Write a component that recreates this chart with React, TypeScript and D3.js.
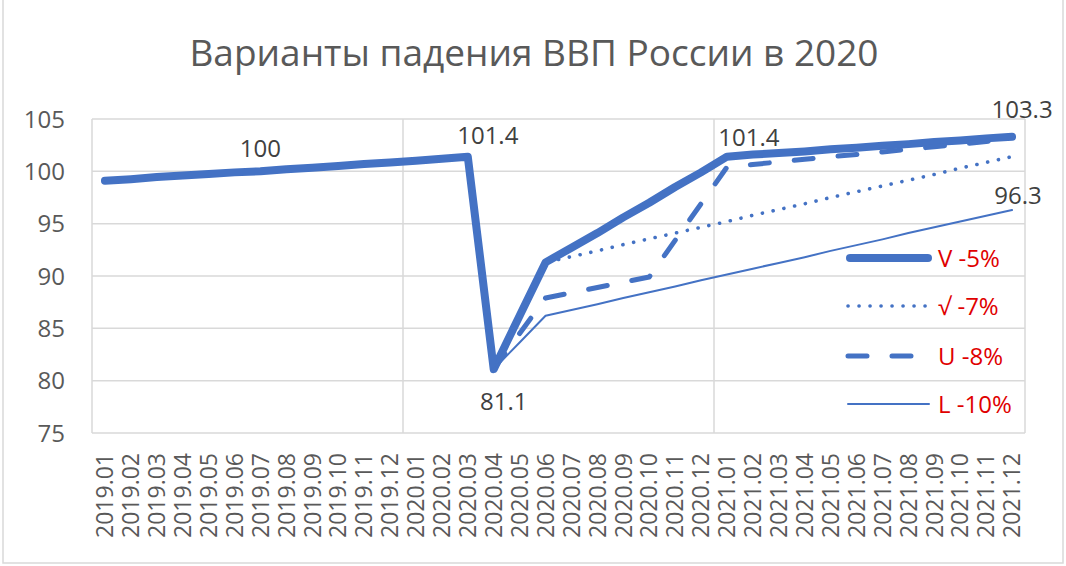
import React from "react";
import * as d3 from "d3";

const months: string[] = [
  "2019.01","2019.02","2019.03","2019.04","2019.05","2019.06","2019.07","2019.08","2019.09","2019.10","2019.11","2019.12",
  "2020.01","2020.02","2020.03","2020.04","2020.05","2020.06","2020.07","2020.08","2020.09","2020.10","2020.11","2020.12",
  "2021.01","2021.02","2021.03","2021.04","2021.05","2021.06","2021.07","2021.08","2021.09","2021.10","2021.11","2021.12",
];

const seriesV5: (number | null)[] = [
  99.1, 99.25, 99.45, 99.6, 99.75, 99.9, 100.0, 100.2, 100.35, 100.5, 100.7, 100.85,
  101.0, 101.2, 101.4, 81.1, 86.2, 91.3, 92.7, 94.1, 95.6, 97.0, 98.5, 99.9,
  101.4, 101.6, 101.75, 101.9, 102.1, 102.25, 102.45, 102.6, 102.8, 102.95, 103.15, 103.3,
];

const seriesV7: (number | null)[] = [
  null, null, null, null, null, null, null, null, null, null, null, null,
  null, null, null, 81.1, 86.2, 91.3, 91.85, 92.4, 93.0, 93.55, 94.1, 94.65,
  95.2, 95.8, 96.35, 96.9, 97.5, 98.05, 98.6, 99.15, 99.7, 100.3, 100.85, 101.4,
];

const seriesU8: (number | null)[] = [
  null, null, null, null, null, null, null, null, null, null, null, null,
  null, null, null, 81.1, 84.5, 87.9, 88.4, 88.9, 89.4, 89.9, 93.4, 96.9,
  100.4, 100.65, 100.9, 101.15, 101.4, 101.6, 101.85, 102.1, 102.35, 102.6, 102.85, 103.1,
];

const seriesL10: (number | null)[] = [
  null, null, null, null, null, null, null, null, null, null, null, null,
  null, null, null, 81.1, 83.65, 86.2, 86.75, 87.3, 87.9, 88.45, 89.0, 89.6,
  90.15, 90.7, 91.25, 91.8, 92.4, 92.95, 93.5, 94.1, 94.65, 95.2, 95.75, 96.3,
];

const legendLabels: string[] = ["V -5%", "√ -7%", "U -8%", "L -10%"];
const yTicks: number[] = [75, 80, 85, 90, 95, 100, 105];
const title = "Варианты падения ВВП России в 2020";

// data labels: [series index, month index, text]
const dataLabels: { s: number; i: number; text: string }[] = [
  { s: 0, i: 6, text: "100" },
  { s: 0, i: 14, text: "101.4" },
  { s: 0, i: 15, text: "81.1" },
  { s: 0, i: 24, text: "101.4" },
  { s: 0, i: 35, text: "103.3" },
  { s: 3, i: 35, text: "96.3" },
];

const W = 1066;
const H = 566;
const plot = { left: 92, right: 1025, top: 119, bottom: 433 };
const BLUE = "#4472C4";
const FONT = "'Open Sans', 'Liberation Sans', sans-serif";

const styles = [
  { width: 8, dash: undefined as string | undefined },
  { width: 3.6, dash: "0.1 10.9" },
  { width: 5, dash: "19 25" },
  { width: 2, dash: undefined as string | undefined },
];

const labelOffsets: Record<string, [number, number]> = {
  "0-6": [0, -14],
  "0-14": [20, -13],
  "0-15": [10, 41],
  "0-24": [22, -11],
  "0-35": [10, -19],
  "3-35": [6, -6],
};

export default function App() {
  const x = d3.scaleBand<string>().domain(months).range([plot.left, plot.right]).padding(0);
  const y = d3.scaleLinear().domain([75, 105]).range([plot.bottom, plot.top]);
  const cx = (i: number) => (x(months[i]) as number) + x.bandwidth() / 2;

  const allSeries = [seriesV5, seriesV7, seriesU8, seriesL10];
  const line = d3
    .line<number | null>()
    .defined((d) => d !== null)
    .x((_, i) => cx(i))
    .y((d) => y(d as number));

  const vLines = [0, 12, 24, 36].map((k) =>
    k < 36 ? (x(months[k]) as number) : plot.right
  );

  const legendY = [258, 306, 356, 404];

  return (
    <svg
      width={W}
      height={H}
      style={{ position: "absolute", left: 0, top: 0, background: "#fff" }}
      fontFamily={FONT}
    >
      <rect x={0} y={0} width={W} height={H} fill="#fff" />
      {/* chart border */}
      <rect x={3} y={-10} width={1060} height={573} fill="none" stroke="#d9d9d9" strokeWidth={1.5} />

      <text x={534} y={66} textAnchor="middle" fontSize={37} fill="#595959">
        {title}
      </text>

      {/* gridlines */}
      {yTicks.map((t) => (
        <line key={"h" + t} x1={plot.left} x2={plot.right} y1={y(t)} y2={y(t)} stroke="#d9d9d9" strokeWidth={1.5} />
      ))}
      {vLines.map((vx, k) => (
        <line key={"v" + k} x1={vx} x2={vx} y1={plot.top} y2={plot.bottom} stroke="#d9d9d9" strokeWidth={1.5} />
      ))}

      {/* y tick labels */}
      {yTicks.map((t) => (
        <text key={"yt" + t} x={65} y={y(t)} dy="0.36em" textAnchor="end" fontSize={24} fill="#595959">
          {t}
        </text>
      ))}

      {/* x tick labels */}
      {months.map((m, i) => (
        <text
          key={m}
          transform={`translate(${cx(i)},${453}) rotate(-90)`}
          textAnchor="end"
          dy="0.36em"
          fontSize={23}
          fill="#595959"
        >
          {m}
        </text>
      ))}

      {/* series lines */}
      {allSeries.map((s, k) => (
        <path
          key={"s" + k}
          d={line(s) || ""}
          fill="none"
          stroke={BLUE}
          strokeWidth={styles[k].width}
          strokeDasharray={styles[k].dash}
          strokeLinecap="round"
          strokeLinejoin="round"
        />
      ))}

      {/* data labels */}
      {dataLabels.map((d) => {
        const v = allSeries[d.s][d.i] as number;
        const off = labelOffsets[`${d.s}-${d.i}`];
        return (
          <text
            key={d.s + "-" + d.i}
            x={cx(d.i) + off[0]}
            y={y(v) + off[1]}
            textAnchor="middle"
            fontSize={24}
            fill="#404040"
          >
            {d.text}
          </text>
        );
      })}

      {/* legend */}
      {legendLabels.map((lab, k) => (
        <g key={lab}>
          <line
            x1={k === 0 ? 850 : 848}
            x2={k === 0 ? 928 : k === 2 ? 915 : 929}
            y1={legendY[k]}
            y2={legendY[k]}
            stroke={BLUE}
            strokeWidth={styles[k].width}
            strokeDasharray={styles[k].dash}
            strokeLinecap="round"
          />
          <text x={938} y={legendY[k]} dy="0.36em" fontSize={24} fill="#E00000">
            {lab}
          </text>
        </g>
      ))}
    </svg>
  );
}
